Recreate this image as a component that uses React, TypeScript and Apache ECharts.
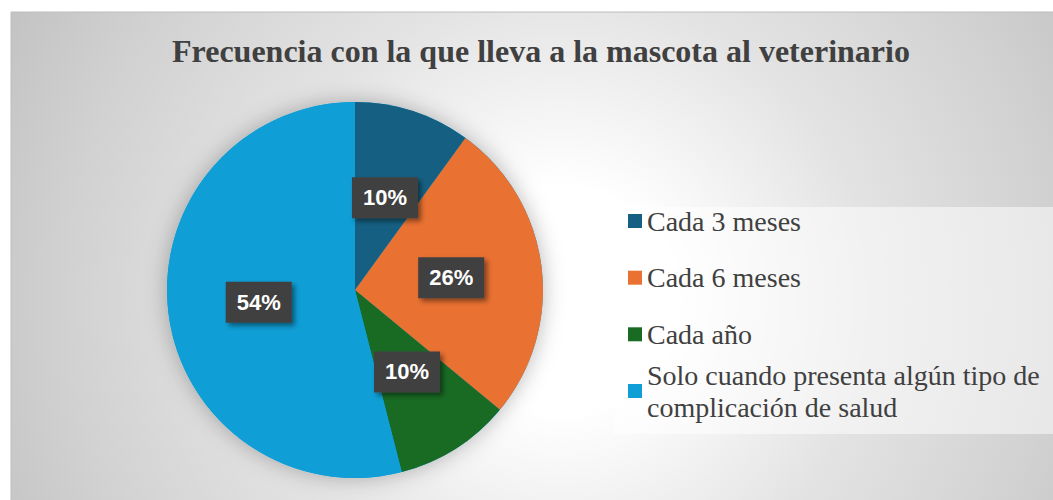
import React, { useEffect, useRef } from "react";
import * as echarts from "echarts";

const title = "Frecuencia con la que lleva a la mascota al veterinario";
const categories = [
  "Cada 3 meses",
  "Cada 6 meses",
  "Cada año",
  "Solo cuando presenta algún tipo de complicación de salud",
];
const legendLabels = [
  "Cada 3 meses",
  "Cada 6 meses",
  "Cada año",
  "Solo cuando presenta algún tipo de\ncomplicación de salud",
];
const percentages = [10, 26, 10, 54];
const colors = ["#156082", "#E97132", "#196B24", "#0F9ED5"];

// legend layout (icon centre y of each entry)
const legendIconCenters = [221, 277.7, 334.3, 391];
const LINE_H = 32;

export default function App() {
  const ref = useRef<HTMLDivElement>(null);

  useEffect(() => {
    if (!ref.current) return;
    const chart = echarts.init(ref.current, undefined, { renderer: "svg" });

    const pieCenter = [355, 290];
    const pieRadius = 188;

    const legends = categories.map((name, i) => {
      const multi = legendLabels[i].includes("\n");
      const lines = legendLabels[i].split("\n").length;
      const boxH = multi ? LINE_H * (lines + 1) : LINE_H;
      return {
        data: [name],
        orient: "vertical",
        left: 628,
        top: legendIconCenters[i] - boxH / 2,
        padding: 0,
        itemWidth: 14,
        itemHeight: 14,
        itemGap: 0,
        icon: "rect",
        selectedMode: false,
        formatter: () => legendLabels[i],
        textStyle: {
          fontFamily: "Liberation Serif",
          fontSize: 28,
          color: "#404040",
          lineHeight: LINE_H,
          padding: multi ? [LINE_H, 0, 0, 0] : 0,
        },
      };
    });

    chart.setOption({
      animation: false,
      color: colors,
      title: {
        text: title,
        left: 172,
        top: 35,
        padding: 0,
        textStyle: {
          fontFamily: "Liberation Serif",
          fontSize: 32,
          fontWeight: "bold",
          color: "#404040",
        },
      },
      legend: legends,
      graphic: [
        {
          type: "rect",
          z: -10,
          shape: { x: 11, y: 12, width: 1060, height: 500 },
          style: {
            fill: new echarts.graphic.RadialGradient(
              560,
              300,
              620,
              [
                { offset: 0, color: "#ffffff" },
                { offset: 0.18, color: "#ffffff" },
                { offset: 0.35, color: "#f0f0f0" },
                { offset: 0.5, color: "#e3e3e3" },
                { offset: 0.8, color: "#d1d1d1" },
                { offset: 1, color: "#c3c3c3" },
              ],
              true
            ),
            stroke: "#bdbdbd",
            lineWidth: 1,
          },
        },
        {
          type: "rect",
          z: -9,
          shape: { x: 614, y: 207, width: 460, height: 227 },
          style: { fill: "rgba(255,255,255,0.5)" },
        },
        {
          type: "circle",
          z: -8,
          shape: { cx: pieCenter[0], cy: pieCenter[1], r: pieRadius },
          style: {
            fill: "#0F9ED5",
            shadowBlur: 22,
            shadowColor: "rgba(0,0,0,0.28)",
          },
        },
      ],
      series: [
        {
          type: "pie",
          center: pieCenter,
          radius: pieRadius,
          startAngle: 90,
          clockwise: true,
          silent: true,
          data: categories.map((name, i) => ({
            name,
            value: percentages[i],
            itemStyle: { color: colors[i] },
          })),
          itemStyle: { borderWidth: 0 },
          label: {
            show: true,
            position: "inside",
            formatter: "{c}%",
            fontFamily: "Liberation Sans",
            fontSize: 22,
            fontWeight: "bold",
            lineHeight: 25,
            color: "#ffffff",
            backgroundColor: "#404040",
            padding: [8, 11],
            shadowBlur: 5,
            shadowOffsetX: 3,
            shadowOffsetY: 3,
            shadowColor: "rgba(0,0,0,0.45)",
          },
          labelLine: { show: false },
          emphasis: { disabled: true },
        },
      ],
    });

    return () => chart.dispose();
  }, []);

  return (
    <div
      ref={ref}
      style={{ position: "fixed", left: 0, top: 0, width: 1053, height: 500, background: "#ffffff" }}
    />
  );
}
